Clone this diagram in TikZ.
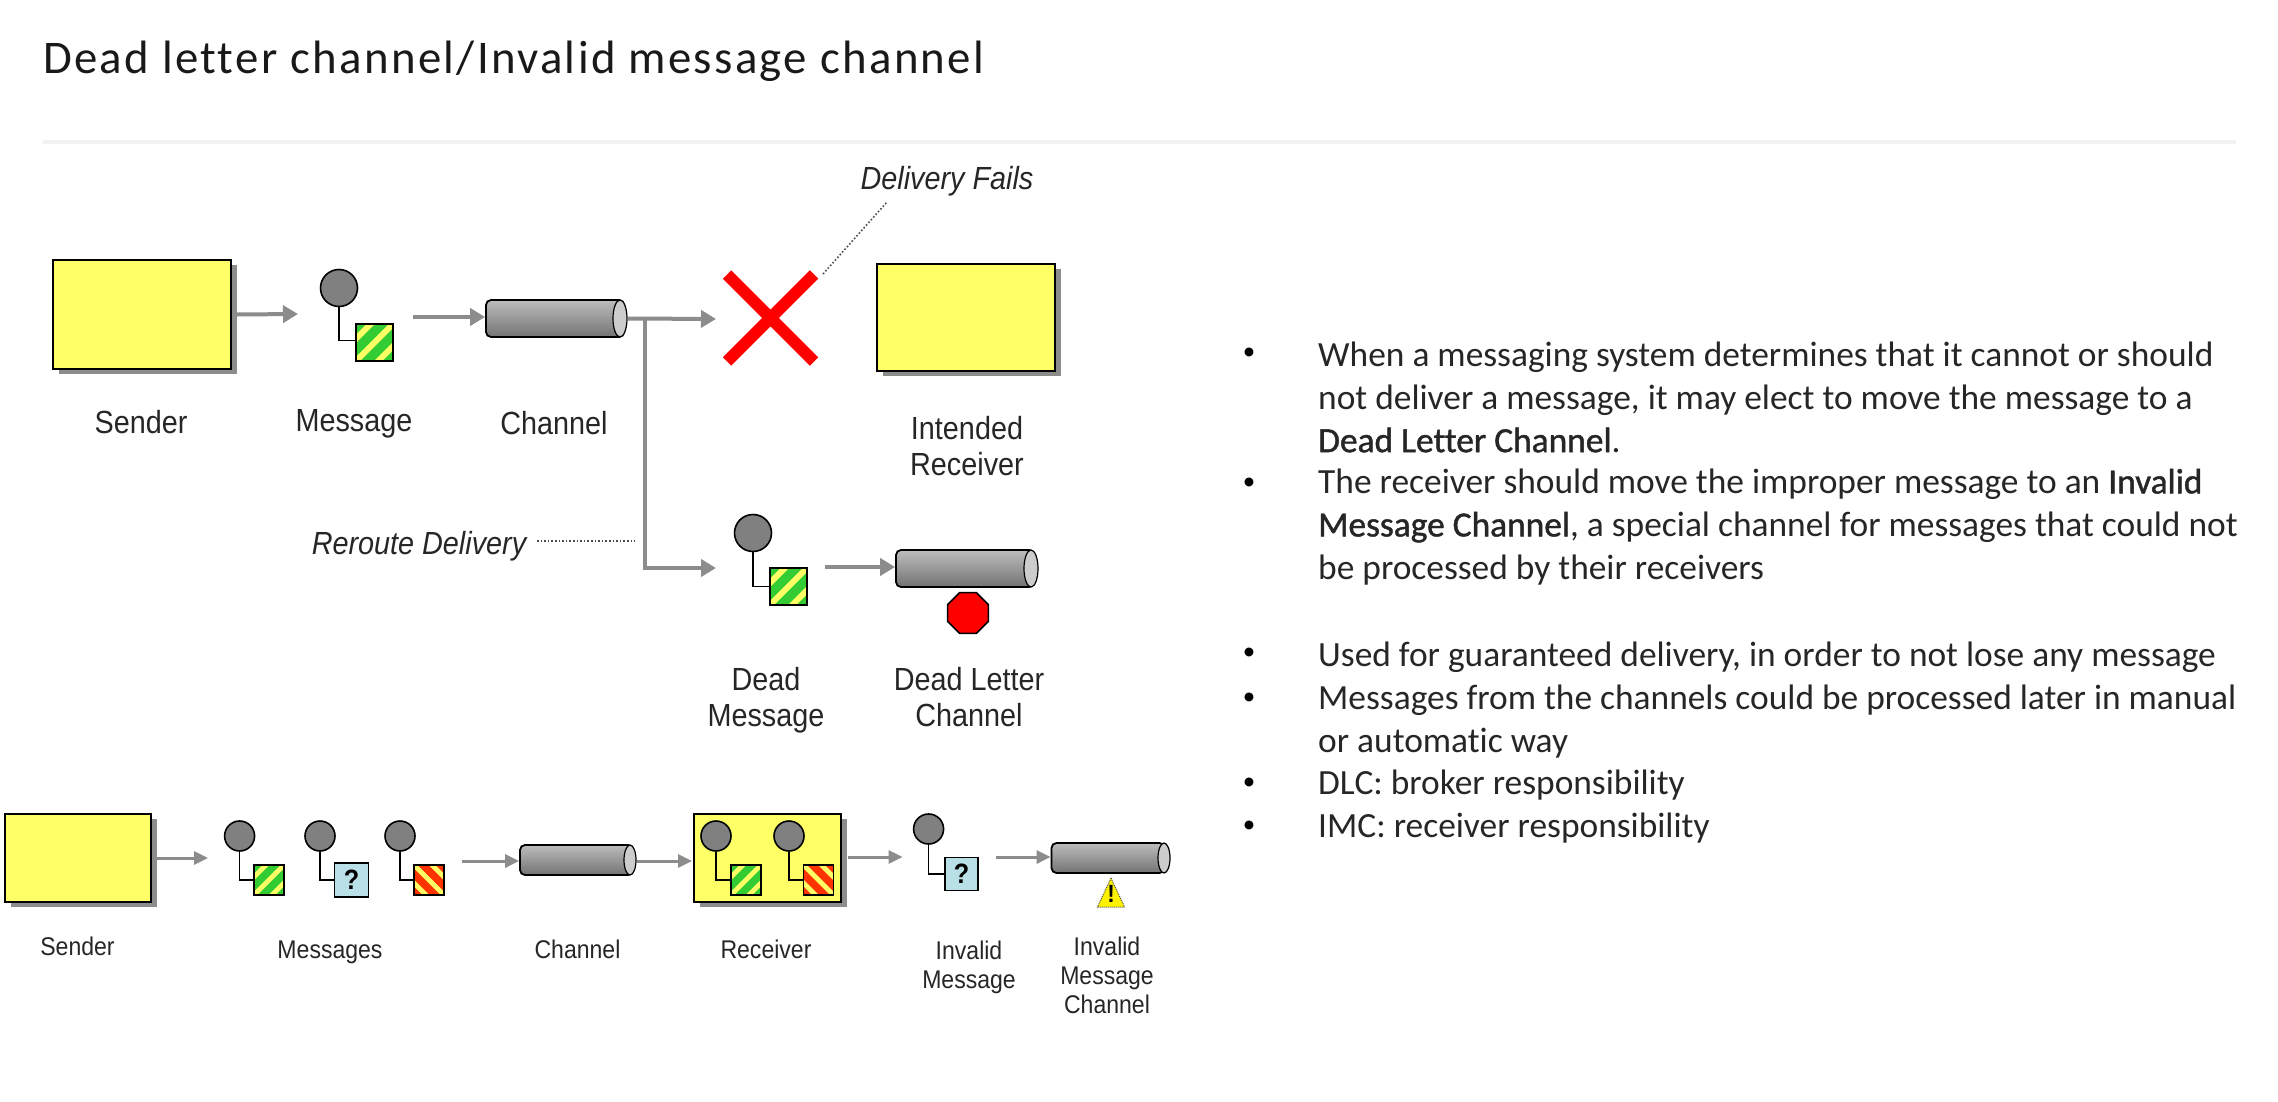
\documentclass[tikz,border=0pt]{standalone}
\usepackage{fontspec}
\setmainfont[Ligatures=NoCommon]{Carlito}
\newfontfamily\labelfont[FakeStretch=0.9]{Liberation Sans}
\newfontfamily\titlefont[LetterSpace=5,Ligatures=NoCommon]{Carlito}
\newfontfamily\keyfont[FakeBold=1.2,Ligatures=NoCommon]{Carlito}
\usetikzlibrary{arrows.meta,shadows,shapes.geometric,shapes.misc}
\definecolor{boxyellow}{HTML}{FFFF66}
\definecolor{boxshadow}{HTML}{8C8C8C}
\definecolor{flowgray}{HTML}{8C8C8C}
\definecolor{headgray}{HTML}{808080}
\definecolor{msggreen}{HTML}{33CC33}
\definecolor{msgred}{HTML}{FF3300}
\definecolor{msgblue}{HTML}{B8E0E6}
\definecolor{inkgray}{HTML}{262626}
\tikzset{
  yellowbox/.style={draw=black,line width=2.4pt,fill=boxyellow,inner sep=0pt,
    general shadow={fill=boxshadow,shadow xshift=6pt,shadow yshift=-5pt}},
  flowarrow/.style={flowgray,line width=4pt,-{Triangle[length=15pt,width=17pt]}},
  flowsmall/.style={flowgray,line width=3pt,-{Triangle[length=14pt,width=13pt]}},
  msghead/.style={circle,draw=black,line width=1.6pt,fill=headgray,inner sep=0pt,minimum size=#1},
  stemline/.style={black,line width=1.6pt},
  msgbody/.style={rectangle,draw=black,line width=1.6pt,inner sep=0pt,minimum size=#1},
  greenbody/.style={msgbody=#1,fill=msggreen,path picture={
    \foreach \s in {-0.6,0,0.6}
      \draw [boxyellow,line width=0.16*#1,shift={(path picture bounding box.center)}]
        (-#1+\s*#1,-#1) -- (#1+\s*#1,#1);}},
  redbody/.style={msgbody=#1,fill=msgred,path picture={
    \foreach \s in {-0.6,0,0.6}
      \draw [boxyellow,line width=0.16*#1,shift={(path picture bounding box.center)}]
        (-#1+\s*#1,#1) -- (#1+\s*#1,-#1);}},
  askbody/.style={msgbody=#1,fill=msgblue,font=\labelfont\bfseries\fontsize{28}{28}\selectfont},
  chanbody/.style={rectangle,draw=black,line width=1.8pt,rounded corners=5pt,inner sep=0pt,
    top color=gray!52,middle color=gray!68,bottom color=gray!110},
  chancap/.style={ellipse,draw=black,line width=1.2pt,fill=gray!40,inner sep=0pt},
  notetext/.style={font=\labelfont\itshape\fontsize{32}{36}\selectfont,text=inkgray},
  noteline/.style={black!70,line width=1.6pt,dotted},
  biglabel/.style={font=\labelfont\fontsize{32}{36}\selectfont,text=inkgray,align=center},
  smalllabel/.style={font=\labelfont\fontsize{25.6}{29}\selectfont,text=inkgray,align=center},
  bodytext/.style={anchor=west,font=\fontsize{35.4}{43}\selectfont,text=inkgray,align=left,inner sep=0pt},
}
\begin{document}
\begin{tikzpicture}[x=1pt,y=-1pt]
  \useasboundingbox (0,0) rectangle (2278,1102);
  \node [anchor=west,inner sep=0pt,font=\titlefont\fontsize{46.8}{47}\selectfont,text=black!90] (title) at (43,61) {Dead letter channel/Invalid message channel};
  \fill [black!5] (43,140) rectangle (2236,144);

  % upper flow
  \node [yellowbox,minimum width=178pt,minimum height=109pt] (sender) at (142,314.5) {};
  \node [msghead=37pt] (headone) at (339,288) {};
  \node [greenbody=37pt] (bodyone) at (374.5,342.5) {};
  \draw [stemline] (headone) |- ([yshift=2pt]bodyone.west);
  \coordinate (msgin) at (298,314);
  \coordinate (msgout) at (413,317);
  \draw [flowarrow] (sender.east) ++(5,0) -- (msgin);
  \node [chanbody,minimum width=138pt,minimum height=37pt] (chan) at (555,318.5) {};
  \node [chancap,minimum width=14pt,minimum height=37pt] (chancapa) at (620,318.5) {};
  \draw [flowarrow] (msgout) -- (msgout -| chan.west);
  \coordinate (failin) at (716,319);
  \coordinate (forkpt) at (645,319);
  \coordinate (deadin) at (716,568);
  \draw [flowarrow] (chancapa.east) -- (failin);
  \draw [flowarrow] (forkpt) |- (deadin);
  \node [draw=red,line width=12pt,cross out,inner sep=0pt,outer sep=0pt,minimum size=87pt] (fail) at (770.5,318) {};
  \node [yellowbox,minimum width=178pt,minimum height=107pt] (intended) at (966,317.5) {};
  \node [notetext] (failnote) at (947,181) {Delivery Fails};
  \coordinate (failtip) at (823,274);
  \coordinate (notetip) at (887,202);
  \draw [noteline] (failtip) -- (notetip);
  \node [notetext] (renote) at (419,546) {Reroute Delivery};
  \coordinate (reroutea) at (537,541);
  \coordinate (rerouteb) at (635,541);
  \draw [noteline] (reroutea) -- (rerouteb);
  \node [msghead=37pt] (headdead) at (753,533) {};
  \node [greenbody=37pt] (bodydead) at (788.5,586.5) {};
  \draw [stemline] (headdead) |- (bodydead.west);
  \node [chanbody,minimum width=138pt,minimum height=37pt] (deadchan) at (965,568.5) {};
  \node [chancap,minimum width=14pt,minimum height=37pt] (deadcap) at (1031,568.5) {};
  \coordinate (deadout) at (825,567);
  \draw [flowarrow] (deadout) -- (deadout -| deadchan.west);
  \node [regular polygon,regular polygon sides=8,draw=black,line width=1.6pt,fill=red,inner sep=0pt,minimum size=44pt] (stopmark) at (968,613) {};
  \node [biglabel] (lblsender) at (141,422) {Sender};
  \node [biglabel] (lblmsg) at (354,424) {Message};
  \node [biglabel] (lblchan) at (554,423) {Channel};
  \node [biglabel] (lblint) at (967,446) {Intended\\Receiver};
  \node [biglabel] (lbldead) at (766,700) {Dead\\Message};
  \node [biglabel] (lbldlc) at (969,697) {Dead Letter\\Channel};

  % lower flow
  \node [yellowbox,minimum width=146pt,minimum height=88pt] (sendertwo) at (78,858) {};
  \coordinate (msgsin) at (208,858);
  \coordinate (msgsout) at (462,861);
  \draw [flowsmall] (sendertwo.east) ++(5,0) -- (msgsin);
  \node [msghead=30pt] (heada) at (239.6,836) {};
  \node [greenbody=30pt] (bodya) at (269,880) {};
  \draw [stemline] (heada) |- (bodya.west);
  \node [msghead=30pt] (headb) at (320,836) {};
  \node [askbody=34pt] (bodyb) at (351.5,880) {?};
  \draw [stemline] (headb) |- (bodyb.west);
  \node [msghead=30pt] (headc) at (400,836) {};
  \node [redbody=30pt] (bodyc) at (429,880) {};
  \draw [stemline] (headc) |- (bodyc.west);
  \node [chanbody,minimum width=113pt,minimum height=30pt] (chantwo) at (576.5,860) {};
  \node [chancap,minimum width=12pt,minimum height=30pt] (chantwocap) at (630,860) {};
  \draw [flowsmall] (msgsout) -- (msgsout -| chantwo.west);
  \node [yellowbox,minimum width=147pt,minimum height=88pt] (receiver) at (767.5,858) {};
  \coordinate (recvin) at (692,861);
  \draw [flowsmall] (chantwocap.east |- recvin) -- (recvin);
  \node [msghead=30pt] (headd) at (716,836) {};
  \node [greenbody=30pt] (bodyd) at (746,880) {};
  \draw [stemline] (headd) |- (bodyd.west);
  \node [msghead=30pt] (heade) at (789,836) {};
  \node [redbody=30pt] (bodye) at (818.5,880) {};
  \draw [stemline] (heade) |- (bodye.west);
  \coordinate (recvout) at (902.5,857);
  \draw [flowsmall] (receiver.east |- recvout) ++(6,0) -- (recvout);
  \node [msghead=30pt] (headf) at (928.6,829) {};
  \node [askbody=33pt] (bodyf) at (961.5,874) {?};
  \draw [stemline] (headf) |- (bodyf.west);
  \node [chanbody,minimum width=113pt,minimum height=30pt] (badchan) at (1108,858) {};
  \node [chancap,minimum width=12pt,minimum height=30pt] (badcap) at (1164,858) {};
  \coordinate (badin) at (996,857);
  \draw [flowsmall] (badin) -- (badin -| badchan.west);
  \filldraw [fill=yellow,draw=black!70,line width=1pt,densely dotted] (1111,878) -- (1124.5,907) -- (1097.5,907) -- cycle;
  \node [font=\labelfont\bfseries\fontsize{25}{25}\selectfont,inner sep=0pt] (warn) at (1111,894) {!};
  \node [smalllabel] (lblsendertwo) at (77.5,946) {Sender};
  \node [smalllabel] (lblmsgs) at (330,952) {Messages};
  \node [smalllabel] (lblchantwo) at (577.5,949) {Channel};
  \node [smalllabel] (lblrecv) at (766,949) {Receiver};
  \node [smalllabel] (lblinv) at (969,967) {Invalid\\Message};
  \node [smalllabel] (lblbad) at (1107,975) {Invalid\\Message\\Channel};

  % bullet text
  \foreach \y [count=\i] in {354,484,654,699,784,827}
    \node [font=\fontsize{25}{25}\selectfont,inner sep=0pt] (bullet\i) at (1249,\y) {•};
  \node [bodytext] (parone) at (1318,397) {When a messaging system determines that it cannot or should\\not deliver a message, it may elect to move the message to a\\{\keyfont Dead Letter Channel}.};
  \node [bodytext] (partwo) at (1318,527) {The receiver should move the improper message to an {\keyfont Invalid}\\{\keyfont Message Channel}, a special channel for messages that could not\\be processed by their receivers};
  \node [bodytext] (parthree) at (1318,657) {Used for guaranteed delivery, in order to not lose any message};
  \node [bodytext] (parfour) at (1318,722) {Messages from the channels could be processed later in manual\\or automatic way};
  \node [bodytext] (parfive) at (1318,785) {DLC: broker responsibility};
  \node [bodytext] (parsix) at (1318,828) {IMC: receiver responsibility};
\end{tikzpicture}
\end{document}
